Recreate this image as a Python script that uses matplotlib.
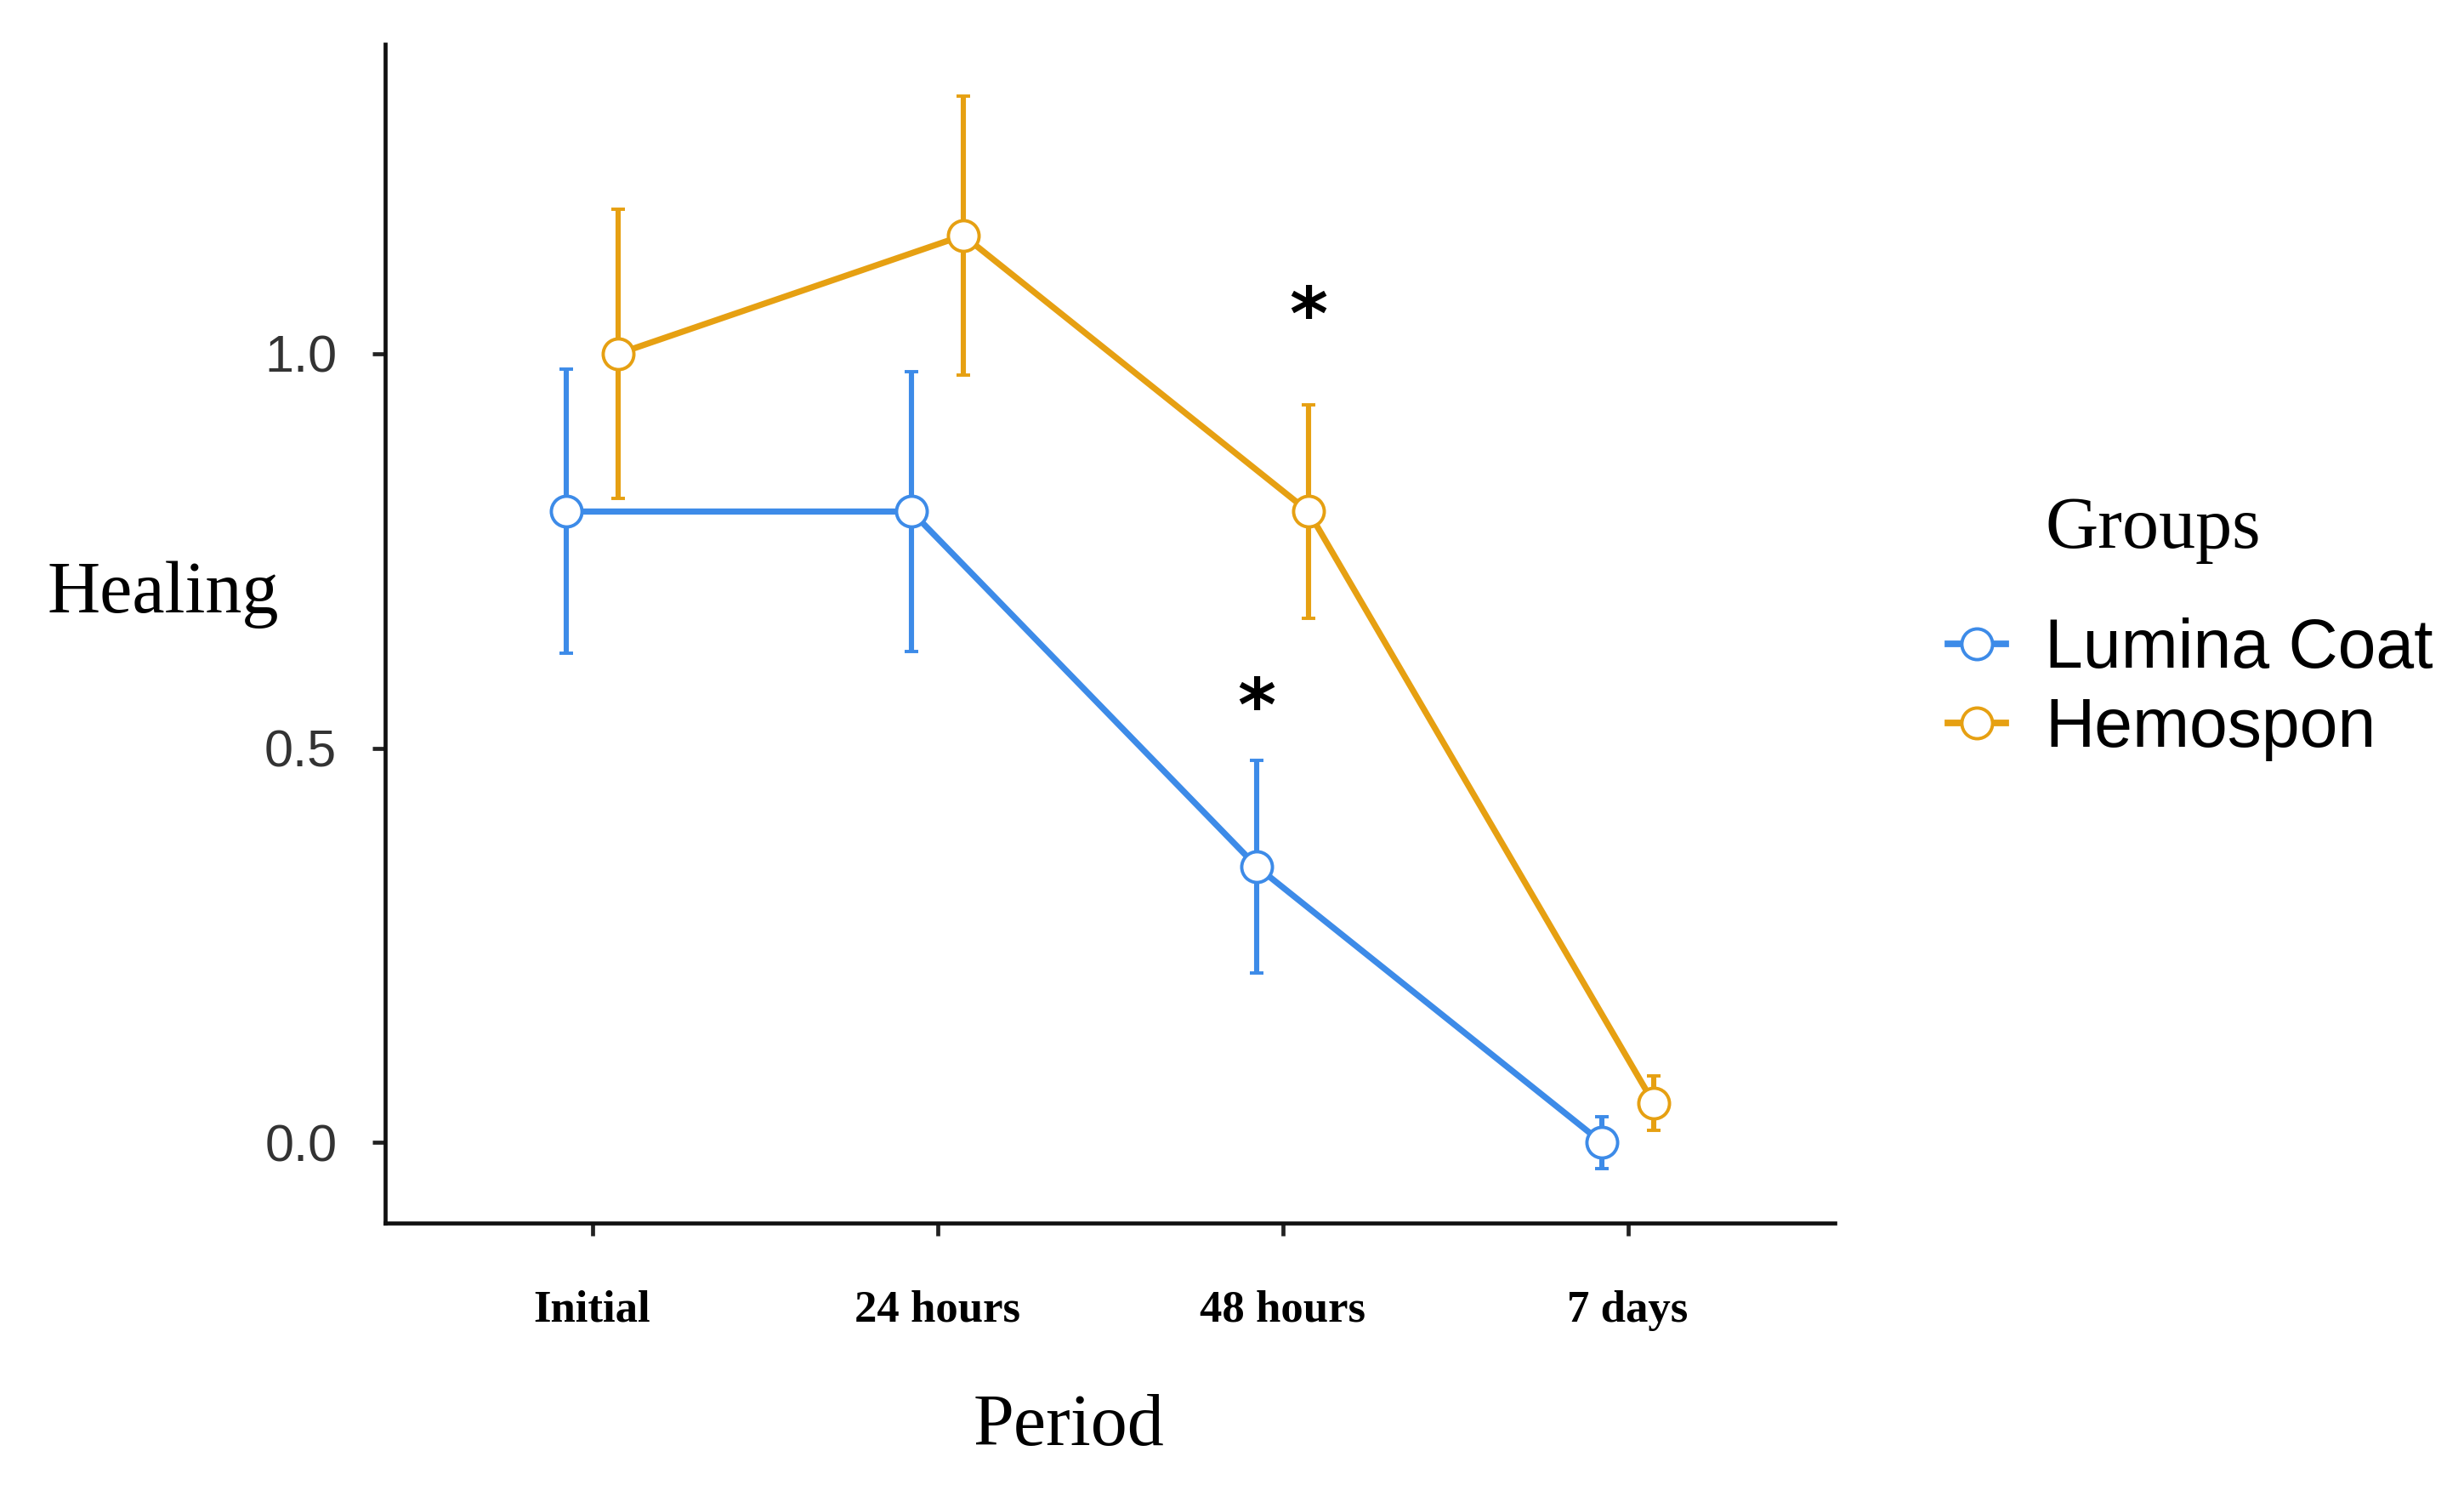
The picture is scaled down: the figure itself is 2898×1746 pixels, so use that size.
import matplotlib
matplotlib.use("Agg")
import matplotlib.pyplot as plt
from matplotlib.lines import Line2D
import numpy as np

periods = ["Initial", "24 hours", "48 hours", "7 days"]
groups = ["Lumina Coat", "Hemospon"]
lumina_mean = [0.80, 0.80, 0.35, 0.00]
lumina_err = [0.18, 0.177, 0.135, 0.033]
hemo_mean = [1.00, 1.15, 0.80, 0.05]
hemo_err = [0.183, 0.177, 0.135, 0.034]
star_period = [2, 2]
star_y = [1.044, 0.548]
star_offset = [0.075, -0.075]

blue = "#3D8BE8"
orange = "#E6A012"

fig = plt.figure(figsize=(14.49, 8.73), dpi=200)
ax = fig.add_axes([0.1563, 0.1764, 0.7447 - 0.1563, 0.970 - 0.1764])

x = np.arange(len(periods))
dodge = 0.075
series = [(lumina_mean, lumina_err, blue, -dodge), (hemo_mean, hemo_err, orange, dodge)]
handles = []
for (m, e, c, off), name in zip(series, groups):
    ax.errorbar(x + off, m, yerr=e, color=c, lw=2.6, elinewidth=2.2,
                capsize=3.0, capthick=2.6, marker='o', markersize=13,
                markerfacecolor='white', markeredgecolor=c, markeredgewidth=1.4,
                zorder=3)
    handles.append(Line2D([0], [0], color=c, lw=2.8, marker='o', markersize=13,
                          markerfacecolor='white', markeredgecolor=c,
                          markeredgewidth=1.4, label=name))

for p, yv, off in zip(star_period, star_y, star_offset):
    ax.text(p + off, yv, "*", ha='center', va='center', fontsize=31,
            fontweight='bold', color='black', family='DejaVu Sans')

ax.set_xlim(-0.6, 3.6)
ax.set_ylim(-0.102, 1.392)
ax.set_xticks(x)
ax.set_xticklabels(periods, family='Liberation Serif', fontweight='bold',
                   fontsize=19, color='black')
ax.set_yticks([0.0, 0.5, 1.0])
ax.set_yticklabels(["0.0", "0.5", "1.0"], family='Liberation Sans', fontsize=22,
                   color='#333333')
ax.tick_params(axis='x', length=5.4, width=1.7, pad=23, color='#222222')
ax.tick_params(axis='y', length=5.4, width=1.7, pad=15, color='#222222')
for s in ['top', 'right']:
    ax.spines[s].set_visible(False)
for s in ['left', 'bottom']:
    ax.spines[s].set_linewidth(1.7)
    ax.spines[s].set_color('#111111')

fig.text(0.4337, 0.039, "Period", ha='center', va='center',
         family='Liberation Serif', fontsize=31)
fig.text(0.019, 0.5997, "Healing", ha='left', va='center',
         family='Liberation Serif', fontsize=31)
fig.text(0.830, 0.643, "Groups", ha='left', va='center',
         family='Liberation Serif', fontsize=31)

leg = fig.legend(handles=handles, loc='upper left', bbox_to_anchor=(0.7905, 0.584),
                 frameon=False,
                 prop={'family': 'Liberation Sans', 'size': 29},
                 handlelength=0.85, handletextpad=0.57, labelspacing=0.21,
                 borderaxespad=0, borderpad=0)

fig.savefig("out.png", dpi=200, facecolor='white')
